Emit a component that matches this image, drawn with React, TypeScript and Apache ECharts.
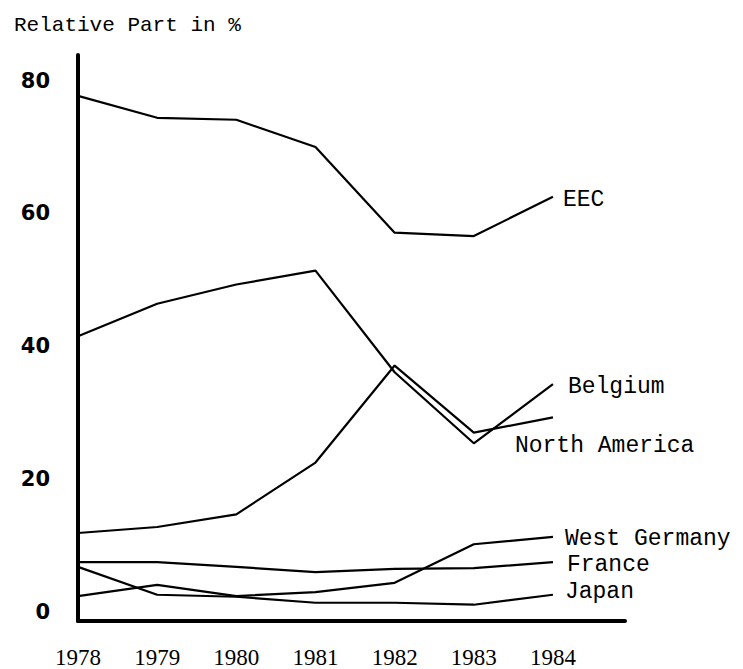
import React, { useEffect, useRef } from "react";
import * as echarts from "echarts";

const years = [1978, 1979, 1980, 1981, 1982, 1983, 1984];
const eec = [77.7, 74.4, 74.1, 70.0, 57.1, 56.6, 62.5];
const belgium = [41.5, 46.4, 49.3, 51.4, 36.1, 25.4, 34.3];
const northAmerica = [11.9, 12.8, 14.7, 22.5, 37.1, 27.0, 29.3];
const westGermany = [2.4, 4.1, 2.4, 3.0, 4.4, 10.2, 11.3];
const france = [7.5, 7.5, 6.8, 6.0, 6.5, 6.6, 7.5];
const japan = [6.8, 2.6, 2.3, 1.4, 1.4, 1.1, 2.6];
const yTicks = [0, 20, 40, 60, 80];
const titleText = "Relative Part in %";

const seriesDefs = [
  { name: "EEC", values: eec, offset: [2, 3] },
  { name: "Belgium", values: belgium, offset: [7, 3] },
  { name: "North America", values: northAmerica, offset: [-46, 29] },
  { name: "West Germany", values: westGermany, offset: [4, 2] },
  { name: "France", values: france, offset: [6, 3] },
  { name: "Japan", values: japan, offset: [4, -3] },
];

export default function App() {
  const ref = useRef<HTMLDivElement>(null);
  useEffect(() => {
    if (!ref.current) return;
    const chart = echarts.init(ref.current, null, { renderer: "svg" });
    chart.setOption({
      animation: false,
      backgroundColor: "#fff",
      title: {
        text: titleText,
        left: 9,
        top: 10,
        textStyle: {
          fontFamily: "Liberation Mono",
          fontSize: 21,
          fontWeight: "normal",
          color: "#000",
        },
      },
      grid: { left: 78, top: 55, right: 118, bottom: 47, containLabel: false },
      xAxis: {
        type: "value",
        min: 1978,
        max: 1984.91,
        axisLine: { onZero: false, lineStyle: { color: "#000", width: 4 } },
        axisTick: { show: false },
        splitLine: { show: false },
        axisLabel: {
          customValues: years,
          formatter: (v: number) => String(v),
          margin: 25,
          fontFamily: "Liberation Serif",
          fontSize: 23,
          color: "#000",
        },
      },
      yAxis: {
        type: "value",
        min: -1.35,
        max: 83.85,
        axisLine: { show: true, lineStyle: { color: "#000", width: 4 } },
        axisTick: { show: false },
        splitLine: { show: false },
        axisLabel: {
          customValues: yTicks,
          formatter: (v: number) => String(v),
          margin: 28,
          fontFamily: "DejaVu Sans",
          fontWeight: "bold",
          fontSize: 21,
          color: "#000",
        },
      },
      series: seriesDefs.map((s) => ({
        name: s.name,
        type: "line",
        symbol: "none",
        data: years.map((y, i) => [y, s.values[i]]),
        lineStyle: { color: "#000", width: 2.2 },
        endLabel: {
          show: true,
          formatter: s.name,
          distance: 8,
          offset: s.offset,
          fontFamily: "Liberation Mono",
          fontSize: 23,
          color: "#000",
        },
      })),
    });
    return () => chart.dispose();
  }, []);
  return (
    <div
      ref={ref}
      style={{ position: "fixed", left: 0, top: 0, width: 743, height: 669 }}
    />
  );
}
